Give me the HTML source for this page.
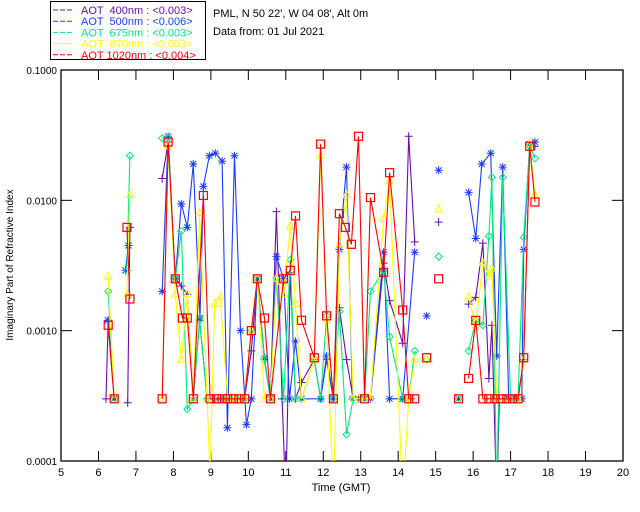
<!DOCTYPE html>
<html><head><meta charset="utf-8"><style>
body{margin:0;background:#fff;}
svg{display:block;font-family:"Liberation Sans",sans-serif;}
.pre{white-space:pre;}
</style></head><body>
<svg id="chart" width="640" height="512" viewBox="0 0 640 512">
<defs><clipPath id="pc"><rect x="61" y="70" width="562" height="391"/></clipPath></defs>
<g id="legend">
<rect x="50.5" y="1.5" width="155" height="58" fill="#fff" stroke="#000"/>
</g>
<text x="213" y="17" font-size="11" fill="#000">PML, N 50 22', W 04 08', Alt 0m</text>
<text x="213" y="35" font-size="11" fill="#000">Data from: 01 Jul 2021</text>
<g id="axes"></g>
<g id="series" clip-path="url(#pc)"></g>
<text transform="translate(13,265) rotate(-90)" text-anchor="middle" font-size="10">Imaginary Part of Refractive Index</text>
<text x="341" y="491" text-anchor="middle" font-size="11">Time (GMT)</text>
</svg>
<script>
const xTicks=[5,6,7,8,9,10,11,12,13,14,15,16,17,18,19,20];
const yTicks=[0.0001,0.001,0.01,0.1];
const yTickLabels=["0.0001","0.0010","0.0100","0.1000"];
const seriesNames=["AOT  400nm : <0.003>","AOT  500nm : <0.006>","AOT  675nm : <0.003>","AOT  870nm : <0.003>","AOT 1020nm : <0.004>"];
const seriesColors=["#6a0dad","#1a3cff","#00e880","#ffff00","#ff0000"];
const seriesMarkers=["plus","star","diamond","triangle","square"];
const N=null;
const purpleT=[6.2,6.26,6.42,N,6.78,6.84,N,7.7,7.86,8.05,8.21,8.37,8.53,8.7,8.9,9.1,9.3,9.5,9.7,9.9,10.08,10.24,10.43,10.59,10.75,10.9,11.0,11.12,11.26,11.42,11.76,11.93,12.09,12.27,12.43,12.62,12.8,12.94,13.1,13.26,13.61,13.77,14.12,14.28,14.44,N,15.08,N,15.88,16.07,16.26,16.42,16.5,16.63,16.7,16.9,17.1,17.2,17.35,17.51,17.65];
const purpleV=[0.0003,0.0012,0.0003,N,0.00028,0.0062,N,0.0147,0.028,0.0025,0.0022,0.0019,0.0003,0.0012,0.0003,0.0003,0.0003,0.0003,0.0003,0.0003,0.0007,0.0025,0.0006,0.0003,0.0082,0.0003,0.00005,0.0028,0.0003,0.0004,0.0006,0.0003,0.0006,0.0003,0.0015,0.0006,0.0003,0.0003,0.0003,0.0003,0.0033,0.0017,0.0008,0.031,0.0048,N,0.0068,N,0.0016,0.0018,0.0047,0.00043,0.0011,0.00005,0.0003,0.0003,0.0003,0.0003,0.0006,0.026,0.026];
const blueT=[6.25,6.42,N,6.72,6.8,N,7.7,7.86,8.05,8.21,8.37,8.53,8.71,8.8,8.96,9.12,9.3,9.44,9.63,9.79,9.95,10.08,10.24,10.43,10.59,10.75,10.94,11.1,11.26,11.42,11.93,12.09,12.27,12.43,12.62,12.78,12.94,13.1,13.26,13.61,13.77,14.12,14.44,N,14.76,N,15.08,N,15.61,N,15.88,16.07,16.23,16.47,16.63,16.79,16.95,17.12,17.3,17.35,17.51,17.65];
const blueV=[0.0012,0.0003,N,0.0029,0.0045,N,0.002,0.031,0.0025,0.0094,0.0062,0.019,0.00125,0.0128,0.022,0.023,0.020,0.00018,0.022,0.001,0.00019,0.0003,0.0025,0.00062,0.0003,0.0037,0.0025,0.0003,0.00083,0.0003,0.0003,0.00064,0.0003,0.0042,0.018,0.0003,0.0003,0.0003,0.0003,0.004,0.0003,0.0003,0.004,N,0.0013,N,0.017,N,0.0003,N,0.0115,0.0051,0.019,0.023,0.00064,0.018,0.0003,0.0003,0.0003,0.0042,0.027,0.028];
const greenT=[6.26,6.42,N,6.76,6.84,N,7.7,7.86,8.05,8.21,8.37,8.53,8.7,8.9,9.1,9.3,9.5,9.7,9.9,10.08,10.24,10.43,10.59,10.75,10.94,11.12,11.26,11.42,11.76,11.93,12.09,12.27,12.43,12.62,12.8,12.94,13.1,13.26,13.61,13.77,14.12,14.28,14.44,N,14.76,N,15.08,N,15.61,N,15.88,16.07,16.26,16.42,16.5,16.63,16.79,17.0,17.2,17.35,17.51,17.65];
const greenV=[0.002,0.0003,N,0.0029,0.022,N,0.03,0.03,0.0025,0.0058,0.00025,0.0003,0.0012,0.0003,0.0003,0.0003,0.0003,0.0003,0.0003,0.001,0.0025,0.0006,0.0003,0.0025,0.0003,0.0035,0.0003,0.0003,0.0006,0.0003,0.0013,0.0003,0.0014,0.00016,0.0003,0.0003,0.0003,0.002,0.0029,0.0009,0.0003,0.0003,0.0007,N,0.0006,N,0.0037,N,0.0003,N,0.0007,0.0012,0.0011,0.0053,0.015,0.00005,0.015,0.0003,0.0003,0.0052,0.026,0.021];
const yellowT=[6.26,6.42,N,6.76,6.84,N,7.7,7.86,8.05,8.21,8.37,8.53,8.7,8.9,8.98,9.1,9.25,9.45,9.65,9.9,10.08,10.24,10.43,10.59,10.75,10.94,11.12,11.26,11.42,11.76,11.93,12.09,12.27,12.43,12.62,12.8,12.94,13.1,13.26,13.61,13.77,14.12,14.28,14.44,N,14.76,N,15.08,N,15.61,N,15.88,16.07,16.26,16.42,16.5,16.63,16.8,17.0,17.2,17.35,17.51,17.65];
const yellowV=[0.0026,0.0003,N,0.0019,0.011,N,0.0003,0.026,0.0019,0.0006,0.0019,0.0003,0.008,0.0003,0.00008,0.0016,0.0018,0.0003,0.0003,0.0003,0.001,0.0025,0.0003,0.0003,0.0025,0.0019,0.0063,0.0016,0.0003,0.0006,0.022,0.0012,0.00005,0.0046,0.011,0.0003,0.0003,0.0003,0.0003,0.0072,0.014,0.00005,0.0003,0.0006,N,0.0006,N,0.0085,N,0.0003,N,0.0018,0.0011,0.0033,0.0026,0.003,0.0003,0.0003,0.0003,0.0003,0.0006,0.027,0.011];
const redT=[6.26,6.42,N,6.76,6.84,N,7.7,7.86,8.05,8.24,8.37,8.53,8.8,8.98,9.15,9.3,9.45,9.6,9.75,9.9,10.08,10.24,10.43,10.59,10.94,11.12,11.26,11.42,11.76,11.93,12.09,12.27,12.43,12.59,12.75,12.94,13.1,13.26,13.61,13.77,14.12,14.28,14.44,N,14.76,N,15.08,N,15.61,N,15.88,16.07,16.26,16.42,16.58,16.74,16.9,17.05,17.2,17.35,17.51,17.65];
const redV=[0.0011,0.0003,N,0.0062,0.00175,N,0.0003,0.028,0.0025,0.00125,0.00125,0.0003,0.0109,0.0003,0.0003,0.0003,0.0003,0.0003,0.0003,0.0003,0.001,0.0025,0.00125,0.0003,0.0025,0.0029,0.0076,0.0012,0.00062,0.027,0.0013,0.0003,0.0079,0.0062,0.0046,0.031,0.0003,0.0105,0.0028,0.0163,0.00144,0.0003,0.0003,N,0.00062,N,0.0025,N,0.0003,N,0.00043,0.0012,0.0003,0.0003,0.0003,0.0003,0.0003,0.0003,0.0003,0.00062,0.026,0.0097];
const allT=[purpleT,blueT,greenT,yellowT,redT];
const allV=[purpleV,blueV,greenV,yellowV,redV];

const NS="http://www.w3.org/2000/svg";
const X0=61,X1=623,Y0=461,Y1=70;
function xs(t){return X0+(t-5)/15*(X1-X0);}
function ys(v){return Y0-(Math.log10(v)+4)/3*(Y0-Y1);}
function mk(tag,attrs,parent){const e=document.createElementNS(NS,tag);for(const k in attrs)e.setAttribute(k,attrs[k]);parent.appendChild(e);return e;}
const axes=document.getElementById('axes');
const frame=mk('rect',{x:X0,y:Y1,width:X1-X0,height:Y0-Y1,fill:'none',stroke:'#000','stroke-width':1.3},axes);


xTicks.forEach(t=>{
  const x=xs(t);
  if(t>5&&t<20){
    const a=mk('line',{x1:x,x2:x,y1:Y0,y2:Y0-10,stroke:'#000'},axes);
    
    
    const b=mk('line',{x1:x,x2:x,y1:Y1,y2:Y1+10,stroke:'#000'},axes);
    
    
  }
  const l=mk('text',{x:x,y:Y0+15,'text-anchor':'middle','font-size':11},axes);
  l.textContent=t;
  
  
});
yTicks.forEach((v,i)=>{
  const y=ys(v);
  if(i>0&&i<yTicks.length-1){
    const a=mk('line',{x1:X0,x2:X0+11,y1:y,y2:y,stroke:'#000'},axes);
    
    
    const b=mk('line',{x1:X1,x2:X1-11,y1:y,y2:y,stroke:'#000'},axes);
    
    
  }
  const l=mk('text',{x:X0-4,y:y+4,'text-anchor':'end','font-size':10},axes);
  l.textContent=yTickLabels[i];
  
  
});
function marker(g,type,x,y,c){
  let e;
  if(type==='plus'){e=mk('path',{d:`M${x-4},${y}H${x+4}M${x},${y-4}V${y+4}`,stroke:c,fill:'none'},g);}
  else if(type==='star'){e=mk('path',{d:`M${x-4},${y}H${x+4}M${x},${y-4}V${y+4}M${x-3},${y-3}L${x+3},${y+3}M${x-3},${y+3}L${x+3},${y-3}`,stroke:c,fill:'none'},g);}
  else if(type==='diamond'){e=mk('path',{d:`M${x},${y-3.5}L${x+3.5},${y}L${x},${y+3.5}L${x-3.5},${y}Z`,stroke:c,fill:'none'},g);}
  else if(type==='triangle'){e=mk('path',{d:`M${x},${y-4.5}L${x+3.5},${y+2.5}L${x-3.5},${y+2.5}Z`,stroke:c,fill:'none'},g);}
  else {e=mk('rect',{x:x-4,y:y-4,width:8,height:8,stroke:c,fill:'none','stroke-width':1.2},g);}
  
  
}
const sg=document.getElementById('series');
allT.forEach((T,si)=>{
  const g=mk('g',{},sg);
  
  
  const V=allV[si];const c=seriesColors[si];
  let d='',pen=false;
  for(let i=0;i<T.length;i++){
    if(T[i]===null){pen=false;continue;}
    d+=(pen?'L':'M')+xs(T[i]).toFixed(1)+','+ys(V[i]).toFixed(1);pen=true;
  }
  const p=mk('path',{d:d,stroke:c,fill:'none','stroke-width':1.1},g);
  
  
  for(let i=0;i<T.length;i++){
    if(T[i]===null||V[i]<0.0001)continue;
    marker(g,seriesMarkers[si],xs(T[i]),ys(V[i]),c);
  }
});
const lg=document.getElementById('legend');
seriesNames.forEach((n,i)=>{
  const y=10+i*11.2;
  const ln=mk('line',{x1:53,x2:74,y1:y,y2:y,stroke:seriesColors[i],'stroke-dasharray':'5,2'},lg);
  
  
  const t=mk('text',{x:81,y:y+4,'font-size':11,fill:seriesColors[i],'class':'pre'},lg);
  t.textContent=n;
  
  
});
</script>
</body></html>
